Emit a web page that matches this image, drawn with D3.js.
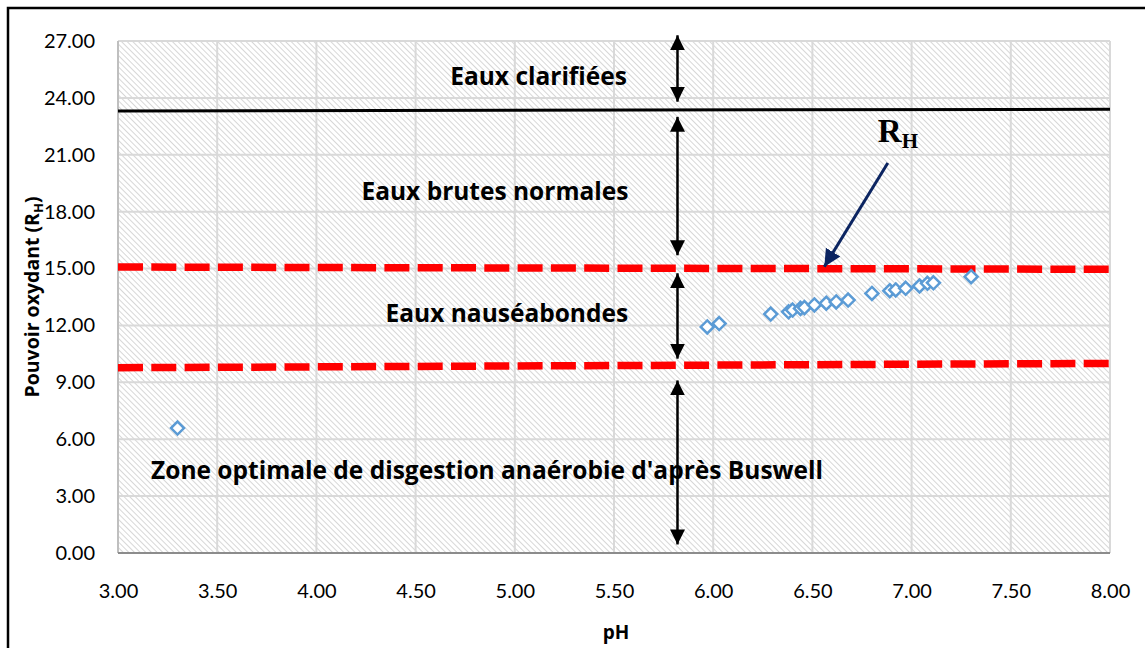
<!DOCTYPE html>
<html>
<head>
<meta charset="utf-8">
<script src="https://cdn.jsdelivr.net/npm/d3@7"></script>
<style>
  body { margin: 0; background: #fff; }
</style>
</head>
<body>
<div id="chart"></div>
<script>
// Data
const phValues = [3.30, 5.97, 6.03, 6.29, 6.38, 6.40, 6.44, 6.46, 6.51, 6.57, 6.62, 6.68, 6.80, 6.89, 6.92, 6.97, 7.04, 7.08, 7.11, 7.30];
const rhValues = [6.59, 11.92, 12.10, 12.60, 12.72, 12.81, 12.90, 12.94, 13.08, 13.17, 13.24, 13.34, 13.69, 13.83, 13.87, 13.96, 14.08, 14.22, 14.25, 14.57];

const xTicks = [3.0, 3.5, 4.0, 4.5, 5.0, 5.5, 6.0, 6.5, 7.0, 7.5, 8.0];
const yTicks = [0, 3, 6, 9, 12, 15, 18, 21, 24, 27];

// limit lines: [x1, y1, x2, y2]
const blackLine = [3, 23.31, 8, 23.40];
const redLines = [[3, 15.08, 8, 14.96], [3, 9.77, 8, 10.0]];

// double arrows at pH 5.82: [yFrom, yTo]
const arrowX = 5.82;
const doubleArrows = [[27.3, 23.8], [23.0, 15.7], [14.75, 10.25], [9.1, 0.45]];

// zone labels: [text, x, y]
const zoneLabels = [
  ["Eaux clarifiées", 5.12, 25.2],
  ["Eaux brutes normales", 4.9, 19.1],
  ["Eaux nauséabondes", 4.96, 12.7],
  ["Zone optimale de disgestion anaérobie d'après Buswell", 4.86, 4.38]
];

// R_H pointer: label position, arrow from -> to
const rhLabel = [6.83, 21.67];
const rhArrow = [6.88, 20.57, 6.56, 15.1];

const width = 1145, height = 648;
const margin = { top: 41, right: 35, bottom: 95, left: 118 };
const sans = "Lato, 'Open Sans', sans-serif";
const bold = "'Open Sans', sans-serif";

const svg = d3.select("#chart").append("svg")
    .attr("width", width)
    .attr("height", height);

// outer frame
svg.append("rect")
    .attr("x", 8).attr("y", 8)
    .attr("width", width).attr("height", height)
    .attr("fill", "none")
    .attr("stroke", "#000")
    .attr("stroke-width", 2.5);

const x = d3.scaleLinear().domain([3, 8]).range([margin.left, width - margin.right]);
const y = d3.scaleLinear().domain([0, 27]).range([height - margin.bottom, margin.top]);

// hatch pattern
const defs = svg.append("defs");
defs.append("pattern")
    .attr("id", "hatch")
    .attr("patternUnits", "userSpaceOnUse")
    .attr("width", 4).attr("height", 4)
    .attr("patternTransform", "rotate(-45)")
  .append("line")
    .attr("x1", 0).attr("y1", 0)
    .attr("x2", 0).attr("y2", 4)
    .attr("stroke", "#c6c6c6")
    .attr("stroke-width", 1.4);

defs.append("marker")
    .attr("id", "head")
    .attr("viewBox", "0 0 10 10")
    .attr("refX", 10).attr("refY", 5)
    .attr("markerWidth", 15).attr("markerHeight", 15)
    .attr("markerUnits", "userSpaceOnUse")
    .attr("orient", "auto-start-reverse")
  .append("path")
    .attr("d", "M0,0L10,5L0,10Z")
    .attr("fill", "#000");

defs.append("marker")
    .attr("id", "headNavy")
    .attr("viewBox", "0 0 10 10")
    .attr("refX", 10).attr("refY", 5)
    .attr("markerWidth", 17).attr("markerHeight", 17)
    .attr("markerUnits", "userSpaceOnUse")
    .attr("orient", "auto")
  .append("path")
    .attr("d", "M0,0L10,5L0,10Z")
    .attr("fill", "#0b2461");

svg.append("rect")
    .attr("x", x(3)).attr("y", y(27))
    .attr("width", x(8) - x(3)).attr("height", y(0) - y(27))
    .attr("fill", "url(#hatch)");

// gridlines
svg.append("g")
    .selectAll("line")
    .data(xTicks)
    .enter().append("line")
    .attr("x1", d => x(d)).attr("x2", d => x(d))
    .attr("y1", y(0)).attr("y2", y(27))
    .attr("stroke", "#d9d9d9")
    .attr("stroke-width", 2);

svg.append("g")
    .selectAll("line")
    .data(yTicks)
    .enter().append("line")
    .attr("x1", x(3)).attr("x2", x(8))
    .attr("y1", d => y(d)).attr("y2", d => y(d))
    .attr("stroke", "#d9d9d9")
    .attr("stroke-width", 2);

// axes
svg.append("line")
    .attr("x1", x(3)).attr("x2", x(3))
    .attr("y1", y(0)).attr("y2", y(27))
    .attr("stroke", "#bfbfbf").attr("stroke-width", 2);
svg.append("line")
    .attr("x1", x(3)).attr("x2", x(8))
    .attr("y1", y(0)).attr("y2", y(0))
    .attr("stroke", "#8c8c8c").attr("stroke-width", 2);

const xAxis = svg.append("g")
    .attr("transform", `translate(0,${y(0)})`)
    .call(d3.axisBottom(x).tickValues(xTicks).tickFormat(d3.format(".2f")).tickSize(0).tickPadding(31));
const yAxis = svg.append("g")
    .attr("transform", `translate(${x(3)},0)`)
    .call(d3.axisLeft(y).tickValues(yTicks).tickFormat(d3.format(".2f")).tickSize(0).tickPadding(23));
[xAxis, yAxis].forEach(a => {
    a.select(".domain").remove();
    a.selectAll("text")
        .style("font-family", sans)
        .attr("font-size", 20)
        .attr("fill", "#000");
});

// axis titles
svg.append("text")
    .attr("x", x(5.5) + 2).attr("y", 639)
    .attr("text-anchor", "middle")
    .style("font-family", bold)
    .attr("font-weight", "bold")
    .attr("font-size", 19)
    .text("pH");

const yTitle = svg.append("text")
    .attr("transform", `translate(39,${(y(0) + y(27)) / 2}) rotate(-90)`)
    .attr("text-anchor", "middle")
    .style("font-family", bold)
    .attr("font-weight", "bold")
    .attr("font-size", 19.5);
yTitle.append("tspan").text("Pouvoir oxydant (R");
yTitle.append("tspan").attr("font-size", 13).attr("dy", 4).text("H");
yTitle.append("tspan").attr("dy", -4).text(")");

// limit lines
svg.append("line")
    .attr("x1", x(blackLine[0])).attr("y1", y(blackLine[1]))
    .attr("x2", x(blackLine[2])).attr("y2", y(blackLine[3]))
    .attr("stroke", "#000").attr("stroke-width", 3);

svg.append("g")
    .selectAll("line")
    .data(redLines)
    .enter().append("line")
    .attr("x1", d => x(d[0])).attr("y1", d => y(d[1]))
    .attr("x2", d => x(d[2])).attr("y2", d => y(d[3]))
    .attr("stroke", "#ff0000")
    .attr("stroke-width", 7.5)
    .attr("stroke-dasharray", "25 8.3");

// double arrows
svg.append("g")
    .selectAll("line")
    .data(doubleArrows)
    .enter().append("line")
    .attr("x1", x(arrowX)).attr("x2", x(arrowX))
    .attr("y1", d => y(d[0])).attr("y2", d => y(d[1]))
    .attr("stroke", "#000")
    .attr("stroke-width", 2.5)
    .attr("marker-start", "url(#head)")
    .attr("marker-end", "url(#head)");

// zone labels
svg.append("g")
    .selectAll("text")
    .data(zoneLabels)
    .enter().append("text")
    .attr("x", d => x(d[1])).attr("y", d => y(d[2]))
    .attr("text-anchor", "middle")
    .attr("dominant-baseline", "central")
    .style("font-family", bold)
    .attr("font-weight", "bold")
    .attr("font-size", 24.5)
    .text(d => d[0]);

// R_H label and arrow
const rh = svg.append("text")
    .attr("x", x(rhLabel[0])).attr("y", y(rhLabel[1]))
    .style("font-family", "'Liberation Serif', 'DejaVu Serif', serif")
    .attr("font-weight", "bold")
    .attr("font-size", 33);
rh.append("tspan").text("R");
rh.append("tspan").attr("font-size", 21).attr("dy", 6).text("H");

svg.append("line")
    .attr("x1", x(rhArrow[0])).attr("y1", y(rhArrow[1]))
    .attr("x2", x(rhArrow[2])).attr("y2", y(rhArrow[3]))
    .attr("stroke", "#0b2461")
    .attr("stroke-width", 3)
    .attr("marker-end", "url(#headNavy)");

// data points
const pts = phValues.map((p, i) => [p, rhValues[i]]);
svg.append("g")
    .selectAll("path")
    .data(pts)
    .enter().append("path")
    .attr("transform", d => `translate(${x(d[0])},${y(d[1])})`)
    .attr("d", "M0,-6.5L6.5,0L0,6.5L-6.5,0Z")
    .attr("fill", "#fff")
    .attr("stroke", "#5b9bd5")
    .attr("stroke-width", 2.5);
</script>
</body>
</html>
